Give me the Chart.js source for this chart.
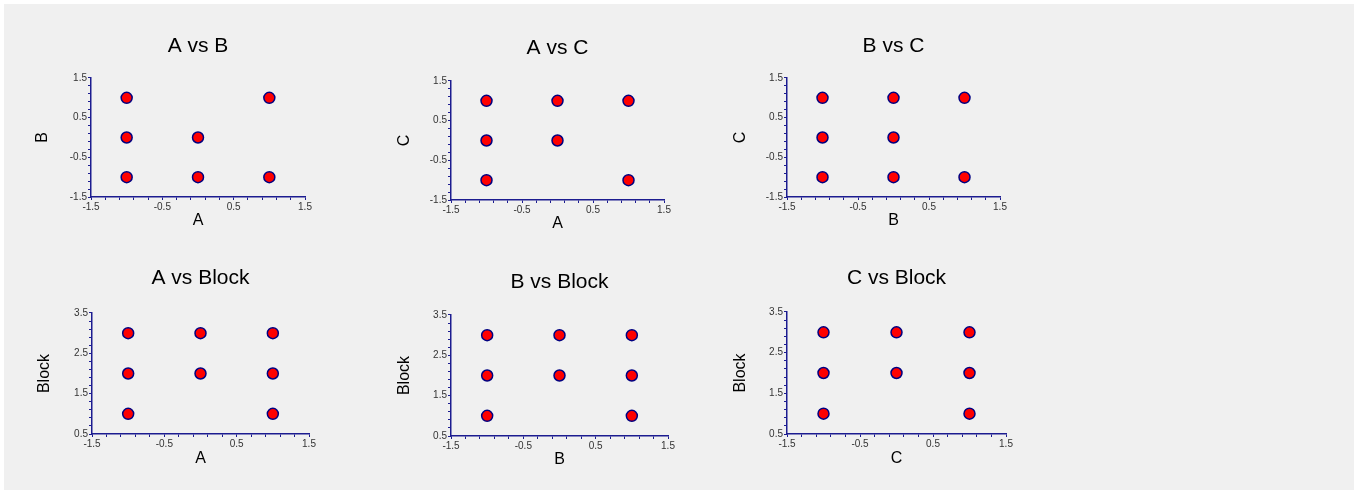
<!DOCTYPE html>
<html>
<head>
<meta charset="utf-8">
<script src="https://cdn.jsdelivr.net/npm/chart.js@4.4.1/dist/chart.umd.min.js"></script>
<style>
  body { margin: 0; background: #ffffff; }
  #panel { position: absolute; left: 4px; top: 4px; width: 1350px; height: 486px; background: #f0f0f0; }
  canvas { position: absolute; }
</style>
</head>
<body>
<div id="panel"></div>

<script>
// design points
const abX = [-1, 1, -1, 0, -1, 0, 1];
const abY = [1, 1, 0, 0, -1, -1, -1];

const acX = [-1, 0, 1, -1, 0, -1, 1];
const acY = [1, 1, 1, 0, 0, -1, -1];

const bcX = [-1, 0, 1, -1, 0, -1, 0, 1];
const bcY = [1, 1, 1, 0, 0, -1, -1, -1];

const aBlockX = [-1, 0, 1, -1, 0, 1, -1, 1];
const aBlockY = [3, 3, 3, 2, 2, 2, 1, 1];

const bBlockX = [-1, 0, 1, -1, 0, 1, -1, 1];
const bBlockY = [3, 3, 3, 2, 2, 2, 1, 1];

const cBlockX = [-1, 0, 1, -1, 0, 1, -1, 1];
const cBlockY = [3, 3, 3, 2, 2, 2, 1, 1];

const factorRange = [-1.5, 1.5];
const blockRange = [0.5, 3.5];
const tickStep = 0.2;

const FONT = "Arial, 'Liberation Sans', sans-serif";
const TITLE_SIZE = 21;
const AXIS_SIZE = 16;
const TICK_SIZE = 10;
const NAVY = '#1c1c90';

// where each plot sits on the page (plot box, title centre, axis title centres)
const panels = [
  { title: 'A vs B', xl: 'A', yl: 'B', xs: abX, ys: abY, yr: factorRange,
    L: 91, R: 305, T: 78, B: 197, ty: 46, ytx: 43, xty: 221 },
  { title: 'A vs C', xl: 'A', yl: 'C', xs: acX, ys: acY, yr: factorRange,
    L: 451, R: 664, T: 81, B: 200, ty: 48, ytx: 405, xty: 224 },
  { title: 'B vs C', xl: 'B', yl: 'C', xs: bcX, ys: bcY, yr: factorRange,
    L: 787, R: 1000, T: 78, B: 197, ty: 46, ytx: 741, xty: 221 },
  { title: 'A vs Block', xl: 'A', yl: 'Block', xs: aBlockX, ys: aBlockY, yr: blockRange,
    L: 92, R: 309, T: 313, B: 434, ty: 278, ytx: 45, xty: 459 },
  { title: 'B vs Block', xl: 'B', yl: 'Block', xs: bBlockX, ys: bBlockY, yr: blockRange,
    L: 451, R: 668, T: 315, B: 436, ty: 282, ytx: 405, xty: 460 },
  { title: 'C vs Block', xl: 'C', yl: 'Block', xs: cBlockX, ys: cBlockY, yr: blockRange,
    L: 787, R: 1006, T: 312, B: 434, ty: 278, ytx: 741, xty: 459 }
];

function majorOnly(min) {
  return function(v) {
    const k = v - min;
    return Math.abs(k - Math.round(k)) < 1e-6 ? v.toFixed(1) : '';
  };
}

function axis(range, label, fitFn) {
  return {
    type: 'linear',
    min: range[0],
    max: range[1],
    ticks: {
      stepSize: tickStep,
      autoSkip: false,
      maxRotation: 0,
      padding: 1,
      color: '#333333',
      font: { family: FONT, size: TICK_SIZE },
      callback: majorOnly(range[0])
    },
    grid: { drawOnChartArea: false, drawTicks: true, tickLength: 3, color: NAVY, lineWidth: 1 },
    border: { display: true, color: NAVY, width: 1.5 },
    title: { display: true, text: label, color: '#000000', padding: 0,
             font: { family: FONT, size: AXIS_SIZE } },
    afterFit: fitFn
  };
}

panels.forEach(function(p, i) {
  const titleLH = TITLE_SIZE * 1.2;
  const axisLH = AXIS_SIZE * 1.2;
  const cx = Math.floor(p.ytx - 16);
  const cy = Math.floor(p.ty - titleLH / 2 - 4);
  const w = p.R + 16 - cx;
  const h = Math.ceil(p.xty + axisLH / 2 + 4) - cy;

  const canvas = document.createElement('canvas');
  canvas.id = 'plot' + i;
  canvas.width = w;
  canvas.height = h;
  canvas.style.left = cx + 'px';
  canvas.style.top = cy + 'px';
  canvas.style.width = w + 'px';
  canvas.style.height = h + 'px';
  document.body.appendChild(canvas);

  const yBoxLeft = p.ytx - axisLH / 2;
  const xBoxBottom = p.xty + axisLH / 2;

  new Chart(canvas.getContext('2d'), {
    type: 'scatter',
    data: {
      datasets: [{
        data: p.xs.map((x, j) => ({ x: x, y: p.ys[j] })),
        backgroundColor: '#ff0000',
        borderColor: '#000080',
        borderWidth: 1.5,
        pointRadius: 5.5,
        pointHoverRadius: 5.5
      }]
    },
    options: {
      responsive: false,
      animation: false,
      events: [],
      layout: {
        padding: {
          left: yBoxLeft - cx,
          top: p.ty - titleLH / 2 - cy,
          right: w - (p.R - cx),
          bottom: h - (xBoxBottom - cy)
        }
      },
      plugins: {
        legend: { display: false },
        tooltip: { enabled: false },
        title: {
          display: true,
          text: p.title,
          fullSize: false,
          color: '#000000',
          font: { family: FONT, size: TITLE_SIZE, weight: 'normal' },
          padding: { top: 0, bottom: p.T - (p.ty + titleLH / 2) }
        }
      },
      scales: {
        x: axis(factorRange, p.xl, function(s) {
          s.height = xBoxBottom - p.B;
          s.paddingLeft = 0;
          s.paddingRight = 0;
        }),
        y: axis(p.yr, p.yl, function(s) {
          s.width = p.L - yBoxLeft;
          s.paddingTop = 0;
          s.paddingBottom = 0;
        })
      }
    }
  });
});
</script>
</body>
</html>
